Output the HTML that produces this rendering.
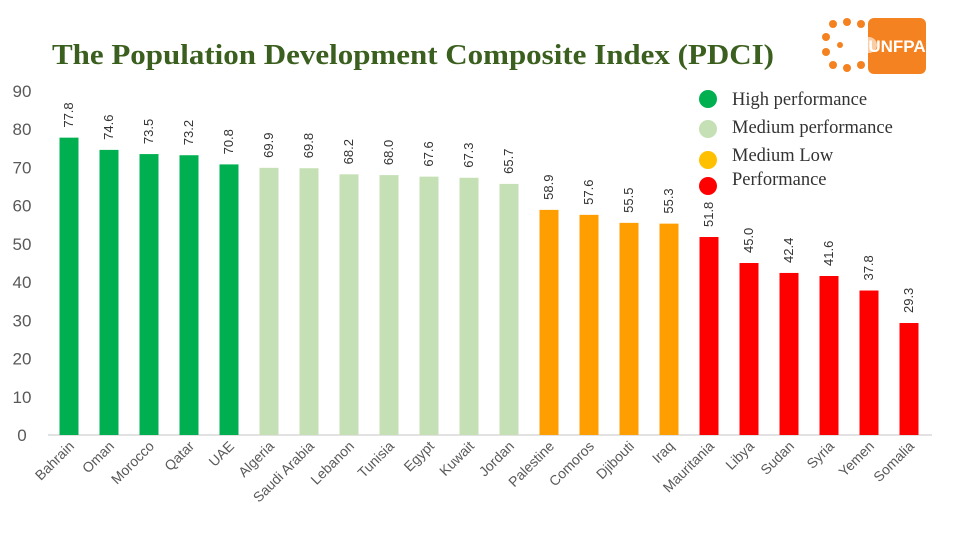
<!DOCTYPE html>
<html><head><meta charset="utf-8"><style>
body{margin:0;background:#fff;}
svg text{font-family:"Liberation Sans",sans-serif;}
</style></head><body>
<svg id="chart" width="960" height="540" xmlns="http://www.w3.org/2000/svg">
<text x="52" y="64" font-weight="bold" font-size="29" fill="#3a5f1e" textLength="722" lengthAdjust="spacingAndGlyphs" style="font-family:'Liberation Serif',serif">The Population Development Composite Index (PDCI)</text>
<g>
<g fill="#f58220">
<circle cx="833" cy="24" r="4"/><circle cx="847" cy="22" r="4"/><circle cx="861" cy="24" r="4"/>
<circle cx="826" cy="37" r="4"/><circle cx="826" cy="52" r="4"/><circle cx="833" cy="65" r="4"/>
<circle cx="847" cy="68" r="4"/><circle cx="861" cy="65" r="4"/><circle cx="840" cy="45" r="3"/>
<rect x="868" y="18" width="58" height="56" rx="6"/>
</g>
<circle cx="869" cy="45" r="8" fill="#fff" opacity="0.6"/>
<text x="897" y="52" font-size="17" font-weight="bold" fill="#fff" text-anchor="middle">UNFPA</text>
</g>
<g id="axes"></g>
<g id="bars"></g>
<g font-size="18.5" fill="#333">
<circle cx="708" cy="99" r="9" fill="#00b050"/>
<text x="732" y="105" style="font-family:'Liberation Serif',serif">High performance</text>
<circle cx="708" cy="129" r="9" fill="#c5e0b4"/>
<text x="732" y="133" style="font-family:'Liberation Serif',serif">Medium performance</text>
<circle cx="708" cy="160" r="9" fill="#ffc000"/>
<text x="732" y="161" style="font-family:'Liberation Serif',serif">Medium Low</text>
<text x="732" y="185" style="font-family:'Liberation Serif',serif">Performance</text>
<circle cx="708" cy="186" r="9" fill="#ff0000"/>
</g>
</svg>
<script>
const categories=["Bahrain","Oman","Morocco","Qatar","UAE","Algeria","Saudi Arabia","Lebanon","Tunisia","Egypt","Kuwait","Jordan","Palestine","Comoros","Djibouti","Iraq","Mauritania","Libya","Sudan","Syria","Yemen","Somalia"];
const values=[77.8,74.6,73.5,73.2,70.8,69.9,69.8,68.2,68.0,67.6,67.3,65.7,58.9,57.6,55.5,55.3,51.8,45.0,42.4,41.6,37.8,29.3];
const groups=["high","high","high","high","high","med","med","med","med","med","med","med","ml","ml","ml","ml","low","low","low","low","low","low"];
const yTicks=[0,10,20,30,40,50,60,70,80,90];
const colors={high:"#00b050",med:"#c5e0b4",ml:"#ff9e00",low:"#ff0000"};
const NS="http://www.w3.org/2000/svg";
const y0=435,pxPer=3.822;
function y(v){return y0-v*pxPer;}
function x(i){return 69+i*40;}
const axes=document.getElementById('axes'),bars=document.getElementById('bars');
function mk(tag,attrs,parent){const e=document.createElementNS(NS,tag);for(const k in attrs)e.setAttribute(k,attrs[k]);parent.appendChild(e);return e;}
yTicks.forEach(t=>{
 const tx=mk('text',{x:22,y:y(t)+6,'font-size':17,fill:'#595959','text-anchor':'middle'},axes);
 
 
 tx.textContent=t;
});
const base=mk('line',{x1:48,x2:932,y1:y0,y2:y0,stroke:'#d9d9d9','stroke-width':1.5},axes);


categories.forEach((c,i)=>{
 const v=values[i],cx=x(i);
 const r=mk('rect',{x:cx-9.5,y:y(v),width:19,height:y0-y(v),fill:colors[groups[i]]},bars);
 
 
 const vl=mk('text',{x:0,y:0,'font-size':13,fill:'#333',transform:`translate(${cx+4},${y(v)-10}) rotate(-90)`},bars);
 
 
 vl.textContent=v.toFixed(1);
 const cl=mk('text',{x:0,y:0,'font-size':14,fill:'#595959','text-anchor':'end',transform:`translate(${cx+6},${y0+12}) rotate(-45)`},bars);
 
 
 cl.textContent=c;
});
</script>
</body></html>
